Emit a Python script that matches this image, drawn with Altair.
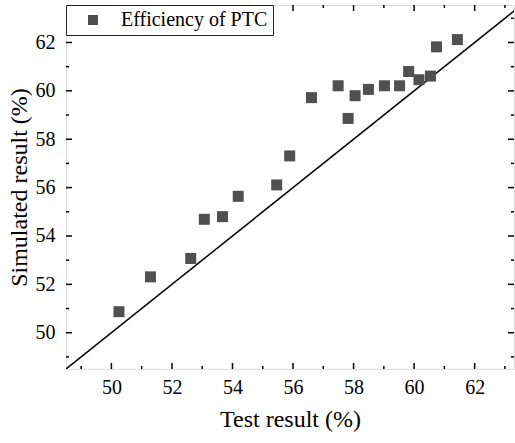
import altair as alt
import pandas as pd

# Data
test_result = [50.25, 51.29, 52.62, 53.07, 53.67, 54.19, 55.46, 55.89, 56.61, 57.49,
               57.82, 58.05, 58.49, 59.02, 59.52, 59.82, 60.16, 60.54, 60.74, 61.43]
simulated = [50.87, 52.31, 53.07, 54.69, 54.80, 55.64, 56.11, 57.31, 59.72, 60.21,
             58.86, 59.80, 60.06, 60.21, 60.21, 60.80, 60.46, 60.61, 61.82, 62.12]
series_name = "Efficiency of PTC"
diag = [48.5, 63.55]
major_ticks = [50, 52, 54, 56, 58, 60, 62]
minor_ticks = [49, 51, 53, 55, 57, 59, 61, 63]

X_DOMAIN = [48.5, 63.3]
Y_DOMAIN = [48.5, 63.55]
W, H = 448, 364
FONT = "Liberation Serif"

df = pd.DataFrame({"test": test_result, "sim": simulated, "series": series_name})
diag_df = pd.DataFrame({"v": diag})
maj_df = pd.DataFrame({"v": major_ticks})
min_df = pd.DataFrame({"v": minor_ticks})

xs = alt.Scale(domain=X_DOMAIN, nice=False, zero=False)
ys = alt.Scale(domain=Y_DOMAIN, nice=False, zero=False)

x_axis = alt.Axis(values=major_ticks, ticks=False, domain=False, grid=False,
                  labelFont=FONT, labelFontSize=20, labelColor="black",
                  labelPadding=8, titleFont=FONT, titleFontSize=24,
                  titleFontWeight="normal", titleColor="black", titlePadding=10,
                  format="d")
y_axis = alt.Axis(values=major_ticks, ticks=False, domain=False, grid=False,
                  labelFont=FONT, labelFontSize=20, labelColor="black",
                  labelPadding=11, titleFont=FONT, titleFontSize=24,
                  titleFontWeight="normal", titleColor="black", titlePadding=4,
                  format="d")
X_TITLE = "Test result (%)"
Y_TITLE = "Simulated result (%)"


def X(field):
    return alt.X(field, scale=xs, axis=x_axis, title=X_TITLE)


def Y(field):
    return alt.Y(field, scale=ys, axis=y_axis, title=Y_TITLE)


line = alt.Chart(diag_df).mark_line(color="black", strokeWidth=1.5, clip=True).encode(
    x=X("v:Q"), y=Y("v:Q"),
)


def xticks(data, length):
    bottom = alt.Chart(data).mark_rule(color="black", strokeWidth=1.5).encode(
        x=X("v:Q"), y=alt.value(H), y2=alt.value(H - length))
    top = alt.Chart(data).mark_rule(color="black", strokeWidth=1.5).encode(
        x=X("v:Q"), y=alt.value(0), y2=alt.value(length))
    return [bottom, top]


def yticks(data, length):
    left = alt.Chart(data).mark_rule(color="black", strokeWidth=1.5).encode(
        y=Y("v:Q"), x=alt.value(0), x2=alt.value(length))
    right = alt.Chart(data).mark_rule(color="black", strokeWidth=1.5).encode(
        y=Y("v:Q"), x=alt.value(W), x2=alt.value(W - length))
    return [left, right]


points = alt.Chart(df).mark_square(size=121, opacity=1).encode(
    x=X("test:Q"),
    y=Y("sim:Q"),
    color=alt.Color("series:N", scale=alt.Scale(range=["#505050"]),
                    legend=alt.Legend(title=None, orient="none", legendX=0, legendY=0,
                                      padding=5, strokeColor="#222", fillColor="white",
                                      symbolType="square", symbolSize=100,
                                      symbolOffset=12, labelOffset=18,
                                      labelFont=FONT, labelFontSize=20,
                                      labelColor="black", symbolStrokeWidth=0)),
)

layers = [line] + xticks(maj_df, 6) + xticks(min_df, 3) + yticks(maj_df, 6) + yticks(min_df, 3) + [points]

chart = alt.layer(*layers).properties(
    width=W, height=H,
    autosize=alt.AutoSizeParams(type="none"),
    padding={"left": 66, "top": 5, "right": 1, "bottom": 74},
).configure_view(stroke="black", strokeWidth=1.5).configure(background="white")

chart.save("out.html", embed_options={"renderer": "svg", "actions": False})
